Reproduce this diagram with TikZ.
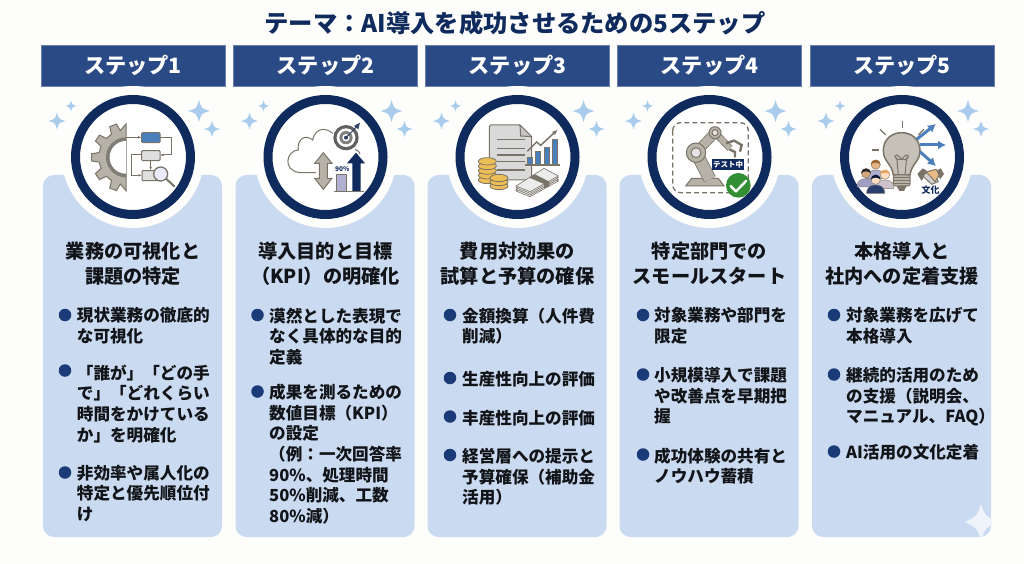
\documentclass[tikz,border=0pt]{standalone}
\usepackage{fontspec}
\setmainfont{Noto Sans CJK JP}
\usetikzlibrary{arrows.meta}

\definecolor{navy}{HTML}{0F2A5C}
\definecolor{headblue}{HTML}{2A4A85}
\definecolor{panelblue}{HTML}{CADAF0}
\definecolor{paper}{HTML}{FDFDFC}
\definecolor{spark}{HTML}{A9CBEC}
\definecolor{dotblue}{HTML}{1A3A78}
\definecolor{ink}{HTML}{111418}
\definecolor{stone}{HTML}{B7B2A8}
\definecolor{edge}{HTML}{7A7468}
\definecolor{chartblue}{HTML}{4A7FBC}
\definecolor{gold}{HTML}{EDBE55}

\tikzset{
  headbox/.style={fill=headblue, draw=headblue!70!white, line width=.6pt, text=white, minimum width=184pt, minimum height=41pt, inner sep=0pt, font=\fontsize{21.2}{24}\selectfont\bfseries},
  panel/.style={fill=panelblue, rounded corners=11pt, minimum width=179pt, minimum height=362pt, inner sep=0pt},
  heading/.style={text=ink, align=center, inner sep=0pt, font=\fontsize{19.2}{25}\selectfont\bfseries},
  itemtext/.style={text=ink, align=left, anchor=north west, inner sep=0pt, font=\fontsize{16.6}{20.6}\selectfont\bfseries},
  itemdot/.style={circle, fill=dotblue, minimum size=12.5pt, inner sep=0pt},
  ring/.style={draw=navy, line width=9pt, fill=white},
  zoomed/.style 2 args={shift={(#1,#2)}, x=.33333pt, y=-.33333pt},
  part/.style={draw=edge, line width=1pt, fill=stone},
  wire/.style={draw=edge, line width=1pt},
  pics/sparkle/.style={code={
    \fill[spark] (0,-1) .. controls (.22,-.22) .. (1,0) .. controls (.22,.22) .. (0,1) .. controls (-.22,.22) .. (-1,0) .. controls (-.22,-.22) .. cycle;
  }},
  pics/worker/.style n args={3}{code={
    \fill[#3, draw=edge, line width=.4pt] (-27,43) .. controls (-27,22) and (-12,18) .. (0,18) .. controls (12,18) and (27,22) .. (27,43) -- cycle;
    \fill[#1, draw=edge, line width=.4pt] (0,2) circle (14);
    \fill[#2] (-14,2) .. controls (-14,-18) and (14,-18) .. (14,2) .. controls (8,-6) and (-8,-6) .. cycle;
  }},
}

\begin{document}
\begin{tikzpicture}[x=1pt, y=-1pt]
  \fill[paper] (0,0) rectangle (1024,564);
  \useasboundingbox (0,0) rectangle (1024,564);

  \node[text=navy, inner sep=0pt, font=\fontsize{24.3}{28}\selectfont\bfseries] (title) at (515,23) {テーマ：AI導入を成功させるための5ステップ};

  \foreach \cx/\n in {133/1, 325.5/2, 517.5/3, 709.5/4, 902/5} {
    \node[headbox] (head\n) at (\cx,65.5) {ステップ\n};
    \node[panel] (panel\n) at (\cx-.5,356) {};
    \fill[paper] (\cx,157) circle (71);
    \draw[ring] (\cx,157) circle (57.5);
    \pic[scale=11] at (\cx+66,111) {sparkle};
    \pic[scale=8] at (\cx+79,129) {sparkle};
    \pic[scale=8.5] at (\cx-76,121) {sparkle};
    \pic[scale=5.5] at (\cx-62,106) {sparkle};
  }

  % corner star of the last panel
  \begin{scope}
    \clip[rounded corners=11pt] (813,175) rectangle (992,537);
    \fill[white!70!panelblue] (981,504) .. controls (985,516) .. (998,522) .. controls (985,528) .. (981,540) .. controls (977,528) .. (965,522) .. controls (977,516) .. cycle;
  \end{scope}

  % icon 1
  \begin{scope}[zoomed={30}{0}]
    \begin{scope}[shift={(288,472)}]
      \draw[part] (90:100) \foreach \a in {112,146,180,214,248} { -- (\a-10:82) -- (\a-6:104) -- (\a+6:104) -- (\a+10:82) } -- (270:100) -- cycle;
      \fill[stone!70!black] (90:60) arc[start angle=90, end angle=270, radius=60] -- cycle;
      \fill[white] (90:49) arc[start angle=90, end angle=270, radius=49] -- cycle;
    \end{scope}
    \draw[wire, -{Latex[length=3.5pt]}] (288,412) -- (335,412);
    \draw[part, fill=chartblue, rounded corners=1pt] (335,398) rectangle (390,428);
    \draw[wire, -{Latex[length=3.5pt]}] (390,412) -- (425,412) -- (425,465) -- (390,465);
    \draw[part, fill=gray!25, rounded corners=1pt] (335,452) rectangle (390,482);
    \draw[wire, -{Latex[length=3.5pt]}] (362,482) -- (362,511);
    \draw[wire, -{Latex[length=3.5pt]}] (335,465) -- (304,465) -- (304,526) -- (336,526);
    \draw[part, fill=gray!25, rounded corners=1pt] (336,512) rectangle (395,542);
    \draw[edge, line width=2pt] (408,536) -- (434,560);
    \draw[edge, line width=1.3pt, fill=blue!8] (392,522) circle (21);
  \end{scope}

  % icon 2
  \begin{scope}[zoomed={30}{0}]
    \draw[wire] (908,400) .. controls (885,380) and (855,385) .. (848,420) .. controls (825,400) and (800,420) .. (805,450) .. controls (770,450) and (755,512) .. (810,518) -- (858,518);
    \draw[wire] (975,448) .. controls (985,452) .. (990,462);
    \fill[gray!75!black] (948,413) circle (38);
    \fill[white] (948,413) circle (28);
    \fill[gray] (948,413) circle (20);
    \fill[white] (948,413) circle (11);
    \fill[navy!70!gray] (948,413) circle (6);
    \draw[navy!70!gray, line width=1pt] (948,413) -- (982,378);
    \fill[navy!70!gray] (972,378) -- (990,368) -- (985,388) -- cycle;
    \draw[part] (880,458) -- (906,490) -- (892,490) -- (892,535) -- (906,535) -- (880,568) -- (854,535) -- (868,535) -- (868,490) -- (854,490) -- cycle;
    \draw[part, fill=blue!25!gray!50] (920,523) rectangle (950,575);
    \node[text=navy, inner sep=0pt, font=\fontsize{6.5}{7}\selectfont\bfseries] (ninety) at (937,508) {90\%};
    \fill[navy] (978,458) -- (1005,490) -- (992,490) -- (992,575) -- (967,575) -- (967,490) -- (951,490) -- cycle;
    \draw[edge, line width=1.2pt] (912,575) -- (1002,575);
  \end{scope}

  % icon 3
  \begin{scope}[zoomed={420}{80}]
    \draw[part, fill=gray!30, rounded corners=1.5pt] (208,135) -- (300,135) -- (335,170) -- (335,300) -- (208,300) -- cycle;
    \draw[part, fill=gray!45] (300,135) -- (302,168) -- (335,170) -- cycle;
    \foreach \y in {178,205,225,245,270}
      \draw[edge, line width=1.2pt] (232,\y) -- (315,\y);
    \foreach \y in {300,286,272,258,244}
      \draw[edge, line width=.8pt, fill=gold] (202,\y) ellipse (27 and 11);
    \foreach \y in {318,306,294}
      \draw[edge, line width=.8pt, fill=gold] (237,\y) ellipse (27 and 11);
    \foreach \x/\t in {323/232, 347/215, 373/202, 398/178}
      \draw[edge, line width=.6pt, fill=chartblue] (\x,\t) rectangle (\x+15,255);
    \draw[edge, line width=1.2pt] (315,255) -- (420,255);
    \draw[edge, line width=1.5pt, -{Latex[length=6pt]}] (322,214) -- (350,186) -- (362,196) -- (414,148);
    \foreach \d in {15,10,5,0}
      \draw[edge, line width=.6pt, fill=gray!15] (288,318+\d) -- (372,265+\d) -- (415,288+\d) -- (330,335+\d) -- cycle;
    \fill[edge] (328,293) -- (344,283) -- (388,305) -- (388,318) -- (372,325) -- (372,312) -- cycle;
  \end{scope}

  % icon 4
  \begin{scope}[zoomed={420}{80}]
    \draw[edge, line width=1.3pt, dash pattern=on 5pt off 3pt, rounded corners=8pt] (758,128) rectangle (985,338);
    \draw[part] (815,295) -- (895,295) -- (912,318) -- (797,318) -- cycle;
    \draw[edge, line width=13pt] (828,218) -- (870,298);
    \draw[stone, line width=11.4pt] (828,218) -- (870,298);
    \draw[edge, line width=10pt] (828,218) -- (885,158);
    \draw[stone, line width=8.4pt] (828,218) -- (885,158);
    \draw[edge, line width=7pt] (885,158) -- (930,205);
    \draw[stone, line width=5.4pt] (885,158) -- (930,205);
    \draw[edge, line width=2.4pt] (918,190) -- (942,182) -- (965,195) -- (960,215);
    \draw[edge, line width=2.4pt] (928,208) -- (945,216) -- (945,232);
    \draw[part] (828,218) circle (29);
    \draw[part, fill=gray!20] (828,218) circle (15);
    \draw[part] (885,158) circle (18);
    \draw[part, fill=gray!20] (885,158) circle (9);
    \node[fill=navy, text=white, minimum width=32pt, minimum height=11pt, inner sep=0pt, font=\fontsize{7.5}{8}\selectfont\bfseries] (tag) at (924,253) {テスト中};
    \fill[green!45!black!80!white] (955,316) circle (37);
    \draw[white, line width=2.4pt, line cap=round, line join=round] (932,318) -- (948,334) -- (979,302);
  \end{scope}

  % icon 5
  \begin{scope}[zoomed={800}{80}]
    \foreach \a/\b/\c/\d in {307/122/307/145, 240/148/257/165, 215/210/238/210, 355/165/372/148}
      \draw[edge, line width=1.2pt] (\a,\b) -- (\c,\d);
    \draw[edge, line width=1.5pt, fill=stone!80!white] (280,285) .. controls (275,250) and (250,245) .. (250,212) .. controls (250,140) and (360,140) .. (360,212) .. controls (360,245) and (335,250) .. (330,285) -- cycle;
    \draw[edge, line width=1pt] (295,285) -- (290,232) (315,285) -- (320,232);
    \draw[edge, line width=1pt] (305,238) .. controls (280,205) and (275,245) .. (305,238) .. controls (335,245) and (330,205) .. (305,238);
    \draw[part, rounded corners=2pt] (280,285) rectangle (330,318);
    \foreach \y in {293,301,309}
      \draw[edge, line width=.9pt] (280,\y) -- (330,\y);
    \fill[edge] (290,318) -- (320,318) -- (312,333) -- (298,333) -- cycle;
    \foreach \a/\b/\c/\d in {350/178/408/132, 360/195/438/195, 360/215/408/258}
      \draw[chartblue, line width=3pt, -{Latex[length=8pt, width=9pt]}] (\a,\b) -- (\c,\d);
    \pic at (227,252) {worker={orange!30!brown!60!white}{brown!80!black}{blue!25!gray!50}};
    \pic at (198,278) {worker={brown!70!white}{black!85}{blue!25!gray!60}};
    \pic at (255,282) {worker={orange!25!white}{orange!50!brown!70!white}{violet!20!gray!40}};
    \pic at (227,297) {worker={orange!25!white}{navy!60!black}{navy!90!white}};
    % handshake
    \draw[part, fill=gray!35] (365,285) -- (395,272) -- (415,305) -- (395,313) -- cycle;
    \draw[part, fill=orange!40!brown!55!white] (378,276) -- (408,268) -- (420,282) -- (405,305) -- (392,290) -- cycle;
    \fill[edge] (352,282) -- (368,265) -- (380,272) -- (365,303) -- cycle;
    \fill[edge] (432,282) -- (422,265) -- (410,272) -- (420,298) -- cycle;
    \node[text=navy, inner sep=0pt, font=\fontsize{9}{10}\selectfont\bfseries] (bunka) at (392,330) {文化};
  \end{scope}

  % column 1
  \node[heading] (title1) at (133,263.5) {業務の可視化と\\課題の特定};
  \node[itemdot] (dot11) at (65,315) {};
  \node[itemtext] (item11) at (76.7,307.5) {現状業務の徹底的\\な可視化};
  \node[itemdot] (dot12) at (65,370.5) {};
  \node[itemtext] (item12) at (76.7,364.5) {「誰が」「どの手\\で」「どれくらい\\時間をかけている\\か」を明確化};
  \node[itemdot] (dot13) at (65,472.5) {};
  \node[itemtext] (item13) at (76.7,465) {非効率や属人化の\\特定と優先順位付\\け};

  % column 2
  \node[heading] (title2) at (325.5,263.5) {導入目的と目標\\（KPI）の明確化};
  \node[itemdot] (dot21) at (257.5,315) {};
  \node[itemtext] (item21) at (269,307.5) {漠然とした表現で\\なく具体的な目的\\定義};
  \node[itemdot] (dot22) at (257.5,391.5) {};
  \node[itemtext] (item22) at (269,384) {成果を測るための\\数値目標（KPI）\\の設定\\（例：一次回答率\\90\%、処理時間\\50\%削減、工数\\80\%減）};

  % column 3
  \node[heading] (title3) at (517.5,263.5) {費用対効果の\\試算と予算の確保};
  \node[itemdot] (dot31) at (450,315) {};
  \node[itemtext] (item31) at (462,307.5) {金額換算（人件費\\削減）};
  \node[itemdot] (dot32) at (450,378) {};
  \node[itemtext] (item32) at (462,371.5) {生産性向上の評価};
  \node[itemdot] (dot33) at (450,416.5) {};
  \node[itemtext] (item33) at (462,410) {丰産性向上の評価};
  \node[itemdot] (dot34) at (450,455) {};
  \node[itemtext] (item34) at (462,448) {経営層への提示と\\予算確保（補助金\\活用）};

  % column 4
  \node[heading] (title4) at (709.5,263.5) {特定部門での\\スモールスタート};
  \node[itemdot] (dot41) at (643,315) {};
  \node[itemtext] (item41) at (654,307.5) {対象業務や部門を\\限定};
  \node[itemdot] (dot42) at (643,374.5) {};
  \node[itemtext] (item42) at (654,367) {小規模導入で課題\\や改善点を早期把\\握};
  \node[itemdot] (dot43) at (643,454.5) {};
  \node[itemtext] (item43) at (654,447.5) {成功体験の共有と\\ノウハウ蓄積};

  % column 5
  \node[heading] (title5) at (902,263.5) {本格導入と\\社内への定着支援};
  \node[itemdot] (dot51) at (834,315) {};
  \node[itemtext] (item51) at (846,307.5) {対象業務を広げて\\本格導入};
  \node[itemdot] (dot52) at (834,374.5) {};
  \node[itemtext] (item52) at (846,367) {継続的活用のため\\の支援（説明会、\\マニュアル、FAQ）};
  \node[itemdot] (dot53) at (834,451.5) {};
  \node[itemtext] (item53) at (846,444) {AI活用の文化定着};
\end{tikzpicture}
\end{document}
